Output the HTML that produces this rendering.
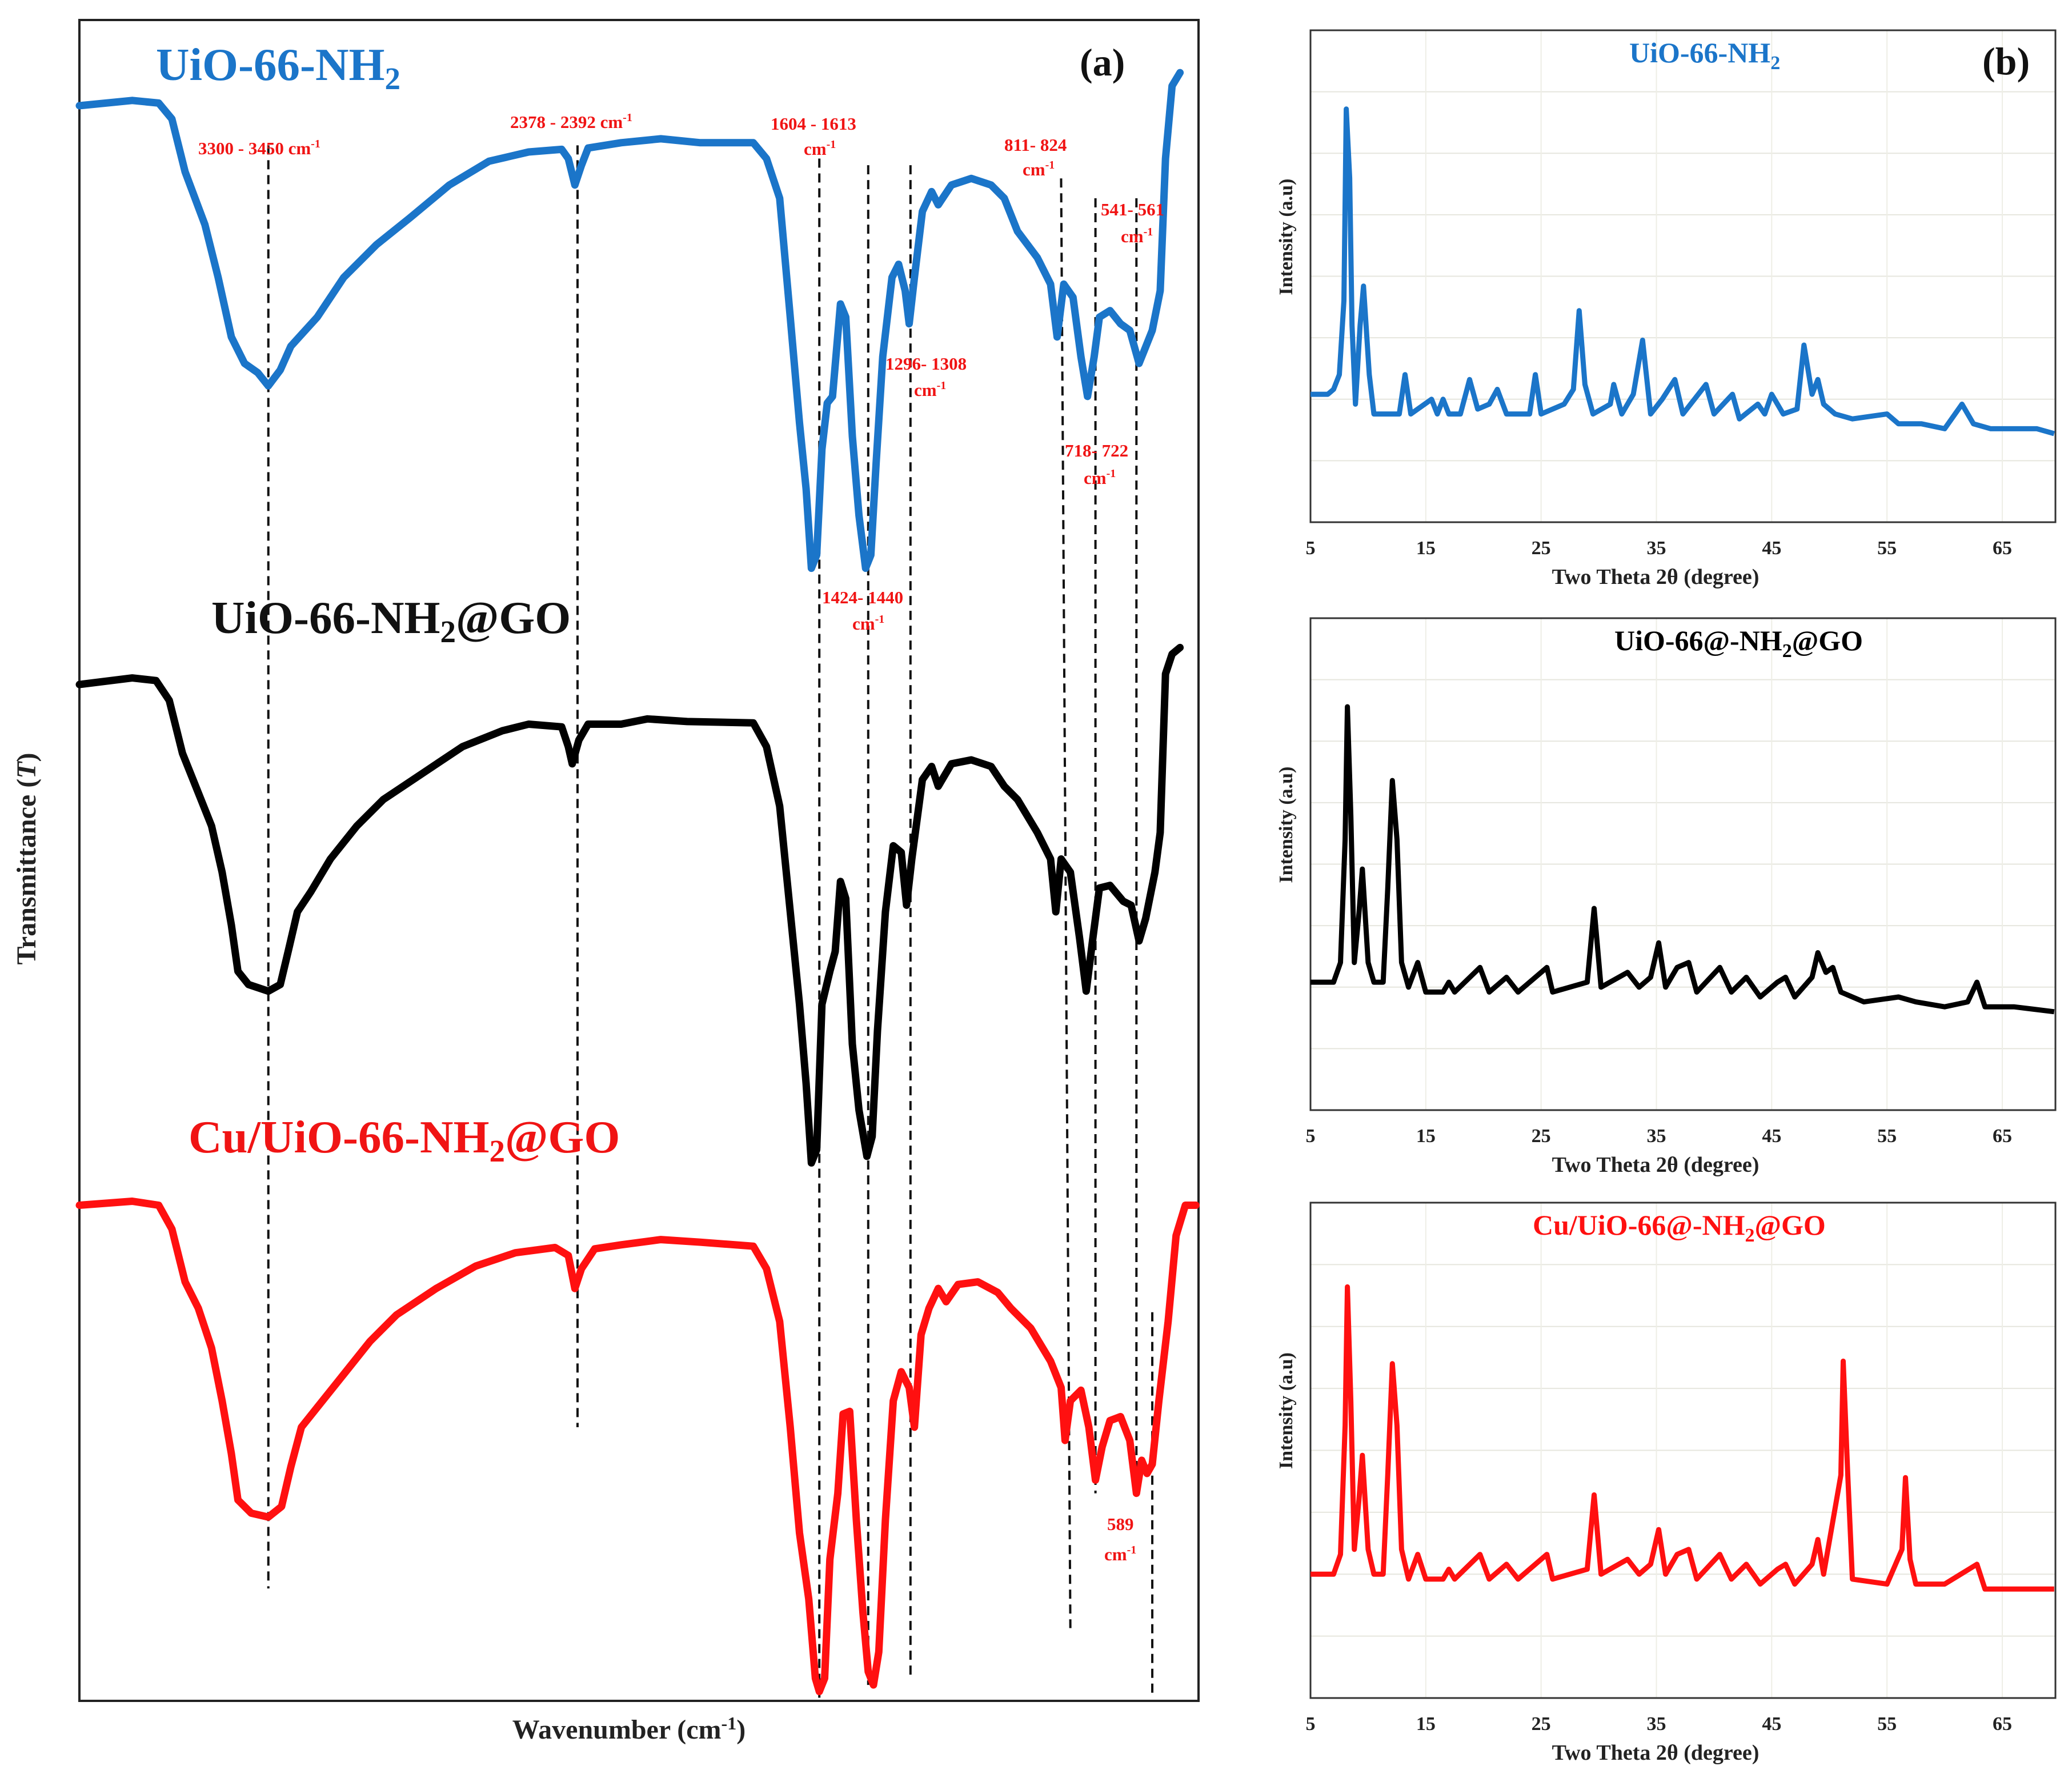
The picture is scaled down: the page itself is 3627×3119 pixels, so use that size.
<!DOCTYPE html>
<html><head><meta charset="utf-8"><style>
html,body{margin:0;padding:0;background:#fff}
svg{display:block}
text{font-family:"Liberation Serif",serif;font-weight:bold}
</style></head><body>
<svg id="fig" width="3627" height="3119" viewBox="0 0 3627 3119" xmlns="http://www.w3.org/2000/svg">
<rect x="0" y="0" width="3627" height="3119" fill="#fff"/>
<g id="panelA">
<rect x="139" y="35" width="1959" height="2942" fill="none" stroke="#222" stroke-width="4"/>
<g id="dashes"></g>
<g id="irCurves"></g>
<text x="273" y="140" font-size="81" fill="#1b75c9">UiO-66-NH<tspan font-size="55" dy="16">2</tspan></text>
<text x="370" y="1108" font-size="81" fill="#111">UiO-66-NH<tspan font-size="55" dy="16">2</tspan><tspan dy="-16">@GO</tspan></text>
<text x="330" y="2017" font-size="81" fill="#f01414">Cu/UiO-66-NH<tspan font-size="55" dy="16">2</tspan><tspan dy="-16">@GO</tspan></text>
<text x="1890" y="132" font-size="68" fill="#111">(a)</text>
<g fill="#f01414" font-size="31">
<text x="347" y="270">3300 - 3450 cm<tspan font-size="20" dy="-12">-1</tspan></text>
<text x="893" y="224">2378 - 2392 cm<tspan font-size="20" dy="-12">-1</tspan></text>
<text x="1349" y="227">1604 - 1613</text>
<text x="1407" y="271">cm<tspan font-size="20" dy="-12">-1</tspan></text>
<text x="1758" y="264">811- 824</text>
<text x="1790" y="307">cm<tspan font-size="20" dy="-12">-1</tspan></text>
<text x="1927" y="377">541- 561</text>
<text x="1962" y="424">cm<tspan font-size="20" dy="-12">-1</tspan></text>
<text x="1550" y="647">1296- 1308</text>
<text x="1600" y="693">cm<tspan font-size="20" dy="-12">-1</tspan></text>
<text x="1864" y="799">718- 722</text>
<text x="1897" y="847">cm<tspan font-size="20" dy="-12">-1</tspan></text>
<text x="1439" y="1056">1424- 1440</text>
<text x="1492" y="1102">cm<tspan font-size="20" dy="-12">-1</tspan></text>
<text x="1938" y="2678">589</text>
<text x="1933" y="2731">cm<tspan font-size="20" dy="-12">-1</tspan></text>
</g>
<text x="1101" y="3043" font-size="48" text-anchor="middle" fill="#222">Wavenumber (cm<tspan font-size="32" dy="-16">-1</tspan><tspan dy="16">)</tspan></text>
<text transform="translate(62,1503) rotate(-90)" font-size="48" text-anchor="middle" fill="#222">Transmittance (<tspan font-style="italic">T</tspan>)</text>
</g>
<g id="panelB"></g>
<text x="3470" y="130" font-size="68" fill="#111">(b)</text>
</svg>
<script>
// ---------- FTIR data (position on wavenumber track, absorbance-like offset a.u.) ----------
const irPosBlue=[60,100,120,130,140,155,165,175,185,195,203,212,220,240,260,285,310,340,370,400,425,430,435,440,445,470,500,530,570,580,590,598,605,610,614,618,622,626,630,636,640,645,650,655,659,663,668,675,680,685,688,692,698,705,710,720,735,750,760,770,785,795,800,805,812,818,823,828,832,840,848,855,862,866,872,878,882,887,893];
const irBlue=[80,76,78,90,130,170,210,255,275,282,292,280,262,240,210,185,165,140,122,115,113,120,140,125,112,108,105,108,108,120,150,240,320,370,430,420,340,305,300,230,240,330,390,430,420,350,270,210,200,220,245,210,160,145,155,140,135,140,150,175,195,215,255,215,225,270,300,270,240,235,245,250,275,265,250,220,120,65,55];
const irPosBlack=[60,100,118,128,138,150,160,168,175,180,188,203,212,218,225,235,250,270,290,320,350,380,400,425,430,433,438,445,470,490,520,570,580,590,598,605,610,614,618,622,628,632,636,640,645,650,656,660,664,670,676,682,686,690,698,705,710,720,735,750,760,770,785,795,799,803,810,817,822,827,832,840,850,856,862,867,874,878,882,887,893];
const irBlack=[518,513,515,530,570,600,625,660,700,735,745,750,745,720,690,675,650,625,605,585,565,553,548,550,565,578,560,548,548,544,546,547,565,610,690,760,820,880,870,760,735,720,667,680,790,840,875,860,780,690,640,645,685,650,590,580,595,578,575,580,595,605,630,650,690,650,660,710,750,710,672,670,682,685,712,695,660,630,510,495,490];
const irPosRed=[60,100,120,130,140,150,160,168,175,180,190,203,213,220,228,240,260,280,300,330,360,390,420,430,435,440,450,470,500,530,570,580,590,598,605,612,617,620,624,628,634,638,643,648,653,657,661,665,670,676,682,688,692,697,703,710,716,725,740,755,765,780,795,803,806,810,818,824,829,834,840,848,855,860,864,868,872,877,884,890,897,905];
const irRed=[912,909,912,930,970,990,1020,1060,1100,1135,1145,1148,1140,1110,1080,1065,1040,1015,995,975,958,948,944,950,975,960,945,942,938,940,943,960,1000,1080,1160,1210,1270,1280,1270,1180,1130,1070,1068,1150,1220,1265,1275,1250,1150,1060,1038,1050,1080,1010,990,975,985,972,970,978,990,1005,1030,1050,1090,1060,1052,1080,1120,1095,1075,1072,1090,1130,1105,1115,1108,1060,1000,935,912,912];
// marker lines: track position, start/end offsets
const markPos=[203,437,620,657,689,803,829,860,872];
const markPosEnd=[203,437,620,657,689,810,829,860,872];
const markFrom=[110,110,120,125,125,135,150,150,993];
const markTo=[1202,1080,1285,1275,1270,1232,1130,1130,1285];

// ---------- XRD data ----------
const xrdTheta1=[5,6.5,7,7.5,7.9,8.1,8.4,8.6,8.9,9.3,9.6,10.1,10.5,12.7,13.2,13.7,15.5,16,16.5,17,18,18.8,19.5,20.5,21.2,22,24,24.5,25,27,27.8,28.3,28.8,29.5,31,31.3,32,33,33.8,34.5,35.5,36.6,37.3,39.3,40,41.6,42.2,43.8,44.4,45,46,47.2,47.8,48.5,49,49.5,50.5,52,55,56,58,60,61.5,62.5,64,66,68,69.5];
const xrdI1=[26,26,27,30,45,84,70,40,24,40,48,30,22,22,30,22,25,22,25,22,22,29,23,24,27,22,22,30,22,24,27,43,28,22,24,28,22,26,37,22,25,29,22,28,22,26,21,24,22,26,22,23,36,26,29,24,22,21,22,20,20,19,24,20,19,19,19,18];
const xrdTheta2=[5,7,7.6,8.0,8.2,8.5,8.8,9.2,9.5,10,10.5,11.3,11.7,12.1,12.5,12.9,13.5,14.3,15,16.5,17,17.5,19.7,20.5,22,23,25.5,26,29,29.6,30.2,32.5,33.5,34.5,35.2,35.8,36.8,37.8,38.5,40.5,41.5,42.8,44,45.5,46.2,47,48.5,49,49.7,50.3,51,53,56,57.5,60,62,62.8,63.5,66,69.5];
const xrdI2=[26,26,30,55,82,60,30,40,49,30,26,26,45,67,55,30,25,30,24,24,26,24,29,24,27,24,29,24,26,41,25,28,25,27,34,25,29,30,24,29,24,27,23,26,27,23,27,32,28,29,24,22,23,22,21,22,26,21,21,20];
const xrdTheta3=[5,7,7.6,8.0,8.2,8.5,8.8,9.2,9.5,10,10.5,11.3,11.7,12.1,12.5,12.9,13.5,14.3,15,16.5,17,17.5,19.7,20.5,22,23,25.5,26,29,29.6,30.2,32.5,33.5,34.5,35.2,35.8,36.8,37.8,38.5,40.5,41.5,42.8,44,45.5,46.2,47,48.5,49,49.5,51,51.2,51.6,52,55,56.3,56.6,57,57.5,60,62.8,63.5,66,69.5];
const xrdI3=[25,25,29,55,83,60,30,40,49,30,25,25,45,67.5,55,30,24,29,24,24,26,24,29,24,27,24,29,24,26,41,25,28,25,27,34,25,29,30,24,29,24,27,23,26,27,23,27,32,25,45,68,45,24,23,30,44.5,28,23,23,27,22,22,22];
const xrdTicks=[5,15,25,35,45,55,65];

const NS='http://www.w3.org/2000/svg';
function mk(tag,attrs,parent){const e=document.createElementNS(NS,tag);for(const k in attrs)e.setAttribute(k,attrs[k]);parent.appendChild(e);return e;}
const S=2.313;
const irX=p=>139+(p-60)*(2098-139)/(907-60);
const irY=v=>v*S;
const dashG=document.getElementById('dashes');
markPos.forEach((p,i)=>{
  const l=mk('line',{x1:irX(p),y1:irY(markFrom[i]),x2:irX(markPosEnd[i]),y2:irY(markTo[i]),stroke:'#111','stroke-width':4,'stroke-dasharray':'16,10'},dashG);
  
  
});
const irG=document.getElementById('irCurves');
function irPath(xs,ys,color,name){
  let d='';xs.forEach((p,i)=>{d+=(i?'L':'M')+irX(p).toFixed(1)+','+irY(ys[i]).toFixed(1);});
  const e=mk('path',{d:d,fill:'none',stroke:color,'stroke-width':13,'stroke-linejoin':'round','stroke-linecap':'round'},irG);
  
  
}
irPath(irPosBlue,irBlue,'#1b75c9','ftir-series-uio66nh2');
irPath(irPosBlack,irBlack,'#000','ftir-series-uio66nh2-go');
irPath(irPosRed,irRed,'#ff1010','ftir-series-cu-uio66nh2-go');

const pB=document.getElementById('panelB');
const panels=[
 {top:53,bot:914,th:xrdTheta1,I:xrdI1,color:'#1b75c9',title:'UiO-66-NH',suffix:'',tx:2852,name:'xrd-uio66nh2'},
 {top:1082,bot:1943,th:xrdTheta2,I:xrdI2,color:'#000',title:'UiO-66@-NH',suffix:'@GO',tx:2826,name:'xrd-uio66nh2-go'},
 {top:2105,bot:2972,th:xrdTheta3,I:xrdI3,color:'#ff1010',title:'Cu/UiO-66@-NH',suffix:'@GO',tx:2683,name:'xrd-cu-uio66nh2-go'}
];
const L=2294,R=3598;
const xx=t=>L+(t-5)*(3505-L)/60;
panels.forEach(P=>{
  const g=mk('g',{},pB);
  
  
  const yy=v=>P.bot-v/100*(P.bot-P.top);
  for(let k=1;k<=7;k++){const y=P.top+k*(P.bot-P.top)/8;
    const gl=mk('line',{x1:L,x2:R,y1:y,y2:y,stroke:'#e6e6de','stroke-width':2},g);
    
    }
  xrdTicks.forEach(t=>{
    const gl=mk('line',{x1:xx(t),x2:xx(t),y1:P.top,y2:P.bot,stroke:'#eeeee6','stroke-width':2},g);
    
    
    const tl=mk('text',{x:xx(t),y:P.bot+56,'font-size':34,'text-anchor':'middle',fill:'#222'},g);
    tl.textContent=t;
    
    
  });
  const fr=mk('rect',{x:L,y:P.top,width:R-L,height:P.bot-P.top,fill:'none',stroke:'#333','stroke-width':3},g);
  
  
  let d='';P.th.forEach((t,i)=>{d+=(i?'L':'M')+xx(t).toFixed(1)+','+yy(P.I[i]).toFixed(1);});
  const c=mk('path',{d:d,fill:'none',stroke:P.color,'stroke-width':9,'stroke-linejoin':'round'},g);
  
  
  const tt=mk('text',{x:P.tx,y:P.top+56,'font-size':50,fill:P.color},g);
  tt.innerHTML=P.title+'<tspan font-size="34" dy="12">2</tspan><tspan dy="-12">'+P.suffix+'</tspan>';
  
  
  const xt=mk('text',{x:2898,y:P.bot+108,'font-size':38,'text-anchor':'middle',fill:'#222'},g);
  xt.textContent='Two Theta 2θ (degree)';
  
  
  const yt=mk('text',{transform:'translate(2262,'+(P.top+(P.bot-P.top)*0.42)+') rotate(-90)','font-size':34,'text-anchor':'middle',fill:'#222'},g);
  yt.textContent='Intensity (a.u)';
  
  
});
</script>
</body></html>
